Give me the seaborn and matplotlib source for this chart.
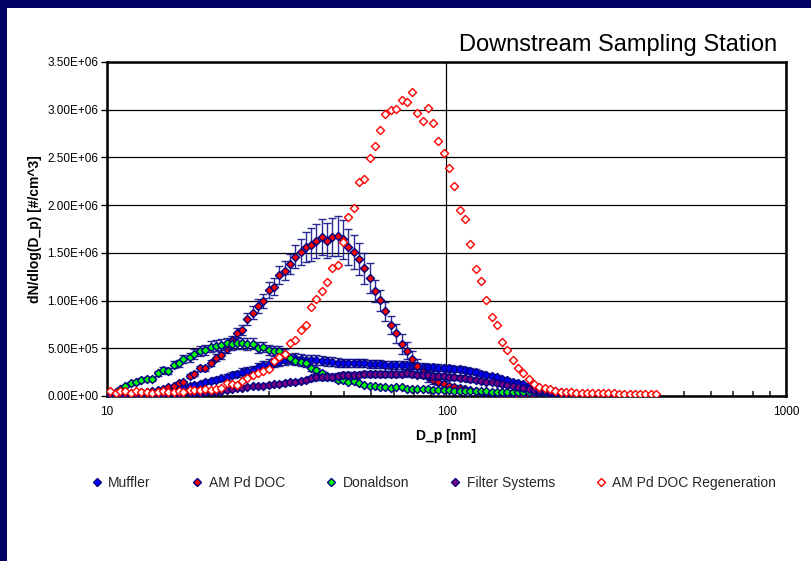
import numpy as np
import pandas as pd
import matplotlib
matplotlib.use("Agg")
import matplotlib.pyplot as plt
import seaborn as sns
from matplotlib.ticker import FuncFormatter, FixedLocator, NullFormatter
from matplotlib.patches import Rectangle
from matplotlib.lines import Line2D

# ---------------- data (values in thousands of #/cm^3) ----------------
diameters = [10.2, 10.6, 10.9, 11.3, 11.8, 12.2, 12.6, 13.1, 13.6, 14.1,
             14.6, 15.1, 15.7, 16.3, 16.8, 17.5, 18.1, 18.8, 19.5, 20.2,
             20.9, 21.7, 22.5, 23.3, 24.1, 25.0, 25.9, 26.9, 27.9, 28.9,
             30.0, 31.1, 32.2, 33.4, 34.6, 35.9, 37.2, 38.5, 40.0, 41.4,
             42.9, 44.5, 46.1, 47.8, 49.6, 51.4, 53.3, 55.2, 57.3, 59.4,
             61.5, 63.8, 66.1, 68.5, 71.0, 73.7, 76.4, 79.1, 82.0, 85.1,
             88.2, 91.4, 94.7, 98.2, 101.8, 105.5, 109.4, 113.4, 117.6, 121.9,
             126.3, 131.0, 135.8, 140.7, 145.9, 151.2, 156.8, 162.5, 168.5, 174.7,
             181.1, 187.7, 194.6, 201.7, 209.1, 216.7, 224.7, 232.9, 241.4, 250.3,
             259.5, 269.0, 278.8, 289.0, 299.6, 310.6, 322.0, 333.8, 346.0, 358.7,
             371.8, 385.4, 399.5, 414.2]

muffler = [20, 22, 25, 28, 30, 33, 37, 42, 45, 52,
           60, 72, 80, 88, 95, 105, 115, 128, 145, 155,
           170, 185, 196, 220, 230, 255, 262, 272, 300,
           325, 340, 349, 360, 377, 385, 395, 388, 380, 377,
           377, 370, 365, 360, 350, 345, 343, 343, 343, 343,
           340, 337, 335, 330, 325, 325, 325, 322, 318, 314,
           308,
           305, 300, 297, 292, 290, 285, 280, 270, 260, 250,
           235, 220, 210, 195, 180, 165, 150, 137, 122, 108,
           94, 80, 70, 60, 50, 42, 35, 30, 25, 21,
           17, 14, 11, 9, 7, 6, 5, 4, 3, 3,
           2, 2, 2, 1]
muffler_err = [5, 5, 6, 6, 7, 7, 8, 8, 9, 10,
               11, 12, 13, 14, 15, 16, 18, 20, 22, 24,
               26, 28, 30, 32, 34, 36, 38, 40, 42,
               44, 45, 46, 48, 50, 50, 52, 50, 48, 48,
               48, 46, 46, 45, 44, 44, 43, 42, 42, 42,
               42, 41, 40, 40, 39, 38, 38, 38, 37, 36,
               36,
               35, 35, 34, 34, 34, 33, 32, 31, 30, 29,
               28, 26, 25, 23, 22, 20, 18, 16, 15, 13,
               12, 10, 9, 8, 7, 6, 5, 4, 4, 3,
               3, 2, 2, 2, 1, 1, 1, 1, 1, 1,
               1, 1, 1, 0]

am_pd_doc = [10, 12, 15, 18, 22, 28, 33, 40, 50, 60, 75, 90,
             105, 133, 147, 213, 230, 290, 290, 349, 401, 426,
             493, 587, 660, 692, 804, 873, 943, 996, 1111, 1146,
             1265, 1313, 1380, 1460, 1510, 1562, 1586, 1625, 1667, 1628,
             1670, 1680, 1640, 1565, 1510, 1436, 1338, 1234, 1100, 1003,
             888, 744, 655, 545, 475, 388, 318, 255, 200, 170,
             150, 123, 105, 91,
             80, 70, 60, 52, 45, 38, 33, 28, 24, 20,
             17, 15, 13, 11, 10, 9, 8, 7, 6, 5,
             5, 4, 4, 3, 3, 3, 2, 2, 2, 2,
             1, 1, 1, 1, 1, 1, 1, 1]
am_pd_doc_err = [3, 3, 4, 4, 5, 5, 6, 6, 7, 8, 9, 10,
                 12, 14, 15, 20, 22, 26, 26, 30, 34, 36,
                 40, 46, 52, 55, 62, 68, 72, 76, 84, 88,
                 96, 100, 106, 120, 140, 160, 170, 180, 190, 185,
                 200, 210, 200, 190, 180, 170, 165, 155, 120, 110,
                 100, 90, 95, 100, 90, 80, 70, 60, 50, 40,
                 35, 30, 25, 22,
                 20, 18, 15, 13, 11, 10, 8, 7, 6, 5,
                 4, 4, 3, 3, 3, 2, 2, 2, 2, 1,
                 1, 1, 1, 1, 1, 1, 1, 1, 1, 1,
                 0, 0, 0, 0, 0, 0, 0, 0]

donaldson = [30, 45, 70, 105, 133, 143, 168, 175, 178, 238,
             272, 262, 328, 343, 385, 405, 440, 472, 482, 517,
             527, 538, 552, 540, 555, 552, 545, 550, 508, 512,
             485, 473, 473, 440, 393, 363, 355, 343, 290, 268,
             238, 205, 202, 170, 168,
             150, 157, 133, 115, 105, 105, 98, 91, 84, 91,
             91, 77, 73, 70, 70, 70, 63, 63, 60, 60,
             55, 54, 53, 52, 50, 49, 48, 47, 46, 45,
             44, 43, 42, 41, 40, 38, 36, 34, 31, 28,
             25, 22, 19, 16, 14, 12, 10, 8, 7, 6,
             5, 4, 3, 3, 2, 2, 2, 1, 1]
donaldson_err = [8, 10, 12, 15, 18, 18, 20, 22, 22, 28,
                 30, 30, 36, 38, 42, 44, 48, 50, 52, 55,
                 56, 58, 60, 58, 60, 60, 58, 60, 55, 55,
                 52, 50, 50, 48, 44, 40, 40, 38, 32, 30,
                 28, 25, 24, 22, 20,
                 18, 18, 16, 15, 14, 14, 13, 12, 12, 12,
                 12, 10, 10, 10, 10, 10, 9, 9, 9, 9,
                 8, 8, 8, 8, 7, 7, 7, 7, 7, 7,
                 6, 6, 6, 6, 6, 6, 5, 5, 5, 4,
                 4, 4, 3, 3, 3, 2, 2, 2, 2, 1,
                 1, 1, 1, 1, 1, 1, 1, 1, 1]

filter_systems = [10, 10, 11, 12, 12, 13, 14, 15, 16, 18,
                  20, 22, 24, 26, 28, 30, 32, 35, 38, 42,
                  45, 55, 62, 72, 80, 88, 95, 100, 105, 110,
                  115, 122, 128, 138, 145, 150, 158, 168, 185, 200,
                  196, 198, 200, 210, 222, 218, 220, 225, 228, 230,
                  228, 230, 232, 230, 232, 235, 238, 232, 225, 220,
                  215, 212, 208, 205, 200, 196, 192, 185, 175, 168,
                  160, 150, 143, 135, 125, 115, 105, 95, 85, 75,
                  65, 56, 48, 40, 34, 28, 23, 19, 15, 12,
                  10, 8, 6, 5, 4, 3, 3, 2, 2, 2,
                  1, 1, 1, 1]
filter_systems_err = [3, 3, 3, 3, 3, 3, 4, 4, 4, 4,
                      5, 5, 5, 6, 6, 6, 7, 7, 8, 8,
                      9, 10, 11, 12, 13, 14, 15, 16, 16, 17,
                      18, 19, 20, 21, 22, 22, 23, 24, 26, 28,
                      28, 28, 28, 29, 30, 30, 30, 30, 31, 31,
                      31, 31, 31, 31, 31, 31, 32, 31, 30, 30,
                      29, 29, 28, 28, 28, 27, 27, 26, 25, 24,
                      23, 22, 21, 20, 19, 18, 16, 15, 14, 12,
                      11, 10, 9, 8, 7, 6, 5, 5, 4, 3,
                      3, 2, 2, 2, 1, 1, 1, 1, 1, 1,
                      0, 0, 0, 0]

regeneration = [52, 35, 52, 52, 28, 50, 40, 40, 35, 45,
                52, 42, 45, 50, 45, 60, 60, 60, 70, 62, 75, 80,
                140, 130, 115, 160, 190, 220, 238, 265, 280, 367,
                412, 443, 552, 587, 695, 744, 930, 1017, 1097, 1192,
                1345, 1373,
                1617, 1879, 1970, 2240, 2274, 2498, 2620, 2788, 2952, 2998,
                3011, 3102, 3085, 3190, 2966, 2882, 3015, 2858, 2669, 2547,
                2393, 2201, 1953, 1855, 1596,
                1331, 1209, 1006, 828, 744, 570, 485, 380, 293, 238,
                178, 122, 98, 87, 70, 56, 45,
                40, 38, 35, 33, 32, 30, 30, 28, 28, 27,
                26, 25, 25, 24, 24, 23, 22, 22]

series_names = ["Muffler", "AM Pd DOC", "Donaldson", "Filter Systems", "AM Pd DOC Regeneration"]
y_ticks = [0, 5e5, 1e6, 1.5e6, 2e6, 2.5e6, 3e6, 3.5e6]
x_ticks = [10, 100, 1000]

# ---------------- styling ----------------
sns.set_theme(style="white")
plt.rcParams['font.family'] = ['Liberation Sans', 'DejaVu Sans']

NAVY = "#000080"
styles = {
    "Muffler": dict(fc="#0000FF", ec=NAVY),
    "AM Pd DOC": dict(fc="#FF0000", ec=NAVY),
    "Donaldson": dict(fc="#00FF00", ec=NAVY),
    "Filter Systems": dict(fc="#800080", ec=NAVY),
    "AM Pd DOC Regeneration": dict(fc="#FFFFFF", ec="#FF0000"),
}

values = {
    "Muffler": (muffler, muffler_err),
    "AM Pd DOC": (am_pd_doc, am_pd_doc_err),
    "Donaldson": (donaldson, donaldson_err),
    "Filter Systems": (filter_systems, filter_systems_err),
    "AM Pd DOC Regeneration": (regeneration, None),
}

fig = plt.figure(figsize=(8.12, 5.61), dpi=100, facecolor="#000066")
fig.patches.append(Rectangle((7 / 812, 0), 1, 1 - 8 / 561, transform=fig.transFigure,
                             facecolor="white", edgecolor="none", zorder=-10))
ax = fig.add_axes([107 / 812, 1 - 396 / 561, 679 / 812, 334 / 561])
ax.set_zorder(5)
ax.set_facecolor("white")

for k, name in enumerate(series_names):
    v, e = values[name]
    df = pd.DataFrame({"D_p": diameters, "dN": np.array(v, dtype=float) * 1000})
    if e is not None:
        ax.errorbar(df["D_p"], df["dN"], yerr=np.array(e, dtype=float) * 1000, fmt="none",
                    ecolor="#14148c", elinewidth=1.0, capsize=3.0, capthick=1.0,
                    alpha=0.9, zorder=2 + 2 * k)
    sns.scatterplot(data=df, x="D_p", y="dN", marker="D", s=17,
                    color=styles[name]["fc"], edgecolor=styles[name]["ec"],
                    linewidth=1.0, ax=ax, zorder=3 + 2 * k, legend=False)

ax.set_xscale("log")
ax.set_xlim(10, 1000)
ax.set_ylim(0, 3.5e6)
ax.yaxis.set_major_locator(FixedLocator(y_ticks))
ax.yaxis.set_major_formatter(FuncFormatter(lambda v, p: f"{v:.2E}"))
ax.xaxis.set_major_locator(FixedLocator(x_ticks))
ax.xaxis.set_major_formatter(FuncFormatter(lambda v, p: f"{int(round(v))}"))
minor = [m * d for d in (10, 100) for m in range(2, 10)]
ax.xaxis.set_minor_locator(FixedLocator(minor))
ax.xaxis.set_minor_formatter(NullFormatter())

ax.grid(True, which="major", axis="both", color="black", linewidth=0.9)
ax.set_axisbelow(True)
for sp in ax.spines.values():
    sp.set_color("black")
    sp.set_linewidth(1.8)
    sp.set_visible(True)

ax.tick_params(axis="x", which="major", direction="inout", length=7, width=1.2,
               labelsize=8.5, pad=4, colors="black")
ax.tick_params(axis="x", which="minor", direction="in", length=3.5, width=1.2, bottom=True)
ax.tick_params(axis="y", which="major", direction="out", length=4, width=1.0,
               labelsize=8.5, pad=2, colors="black", left=True)

ax.set_xlabel("D_p [nm]", fontsize=10, fontweight="bold", color="black")
ax.set_ylabel("dN/dlog(D_p) [#/cm^3]", fontsize=10, fontweight="bold", color="black")
ax.xaxis.set_label_coords(0.5, -0.100)
ax.yaxis.set_label_coords(-0.096, 0.5)

fig.text(777 / 812, 1 - 45 / 561, "Downstream Sampling Station", ha="right", va="center",
         fontsize=17, color="black")

handles = [Line2D([0], [0], marker="D", linestyle="none", markersize=3.6,
                  markerfacecolor=styles[n]["fc"], markeredgecolor=styles[n]["ec"],
                  markeredgewidth=1.0) for n in series_names]
fig.legend(handles, series_names, loc="center", bbox_to_anchor=(434 / 812, 1 - 483 / 561),
           ncol=5, frameon=False, fontsize=10, handlelength=0.8, handletextpad=0.4,
           columnspacing=2.95)

fig.savefig("out.png", dpi=100, facecolor=fig.get_facecolor())
